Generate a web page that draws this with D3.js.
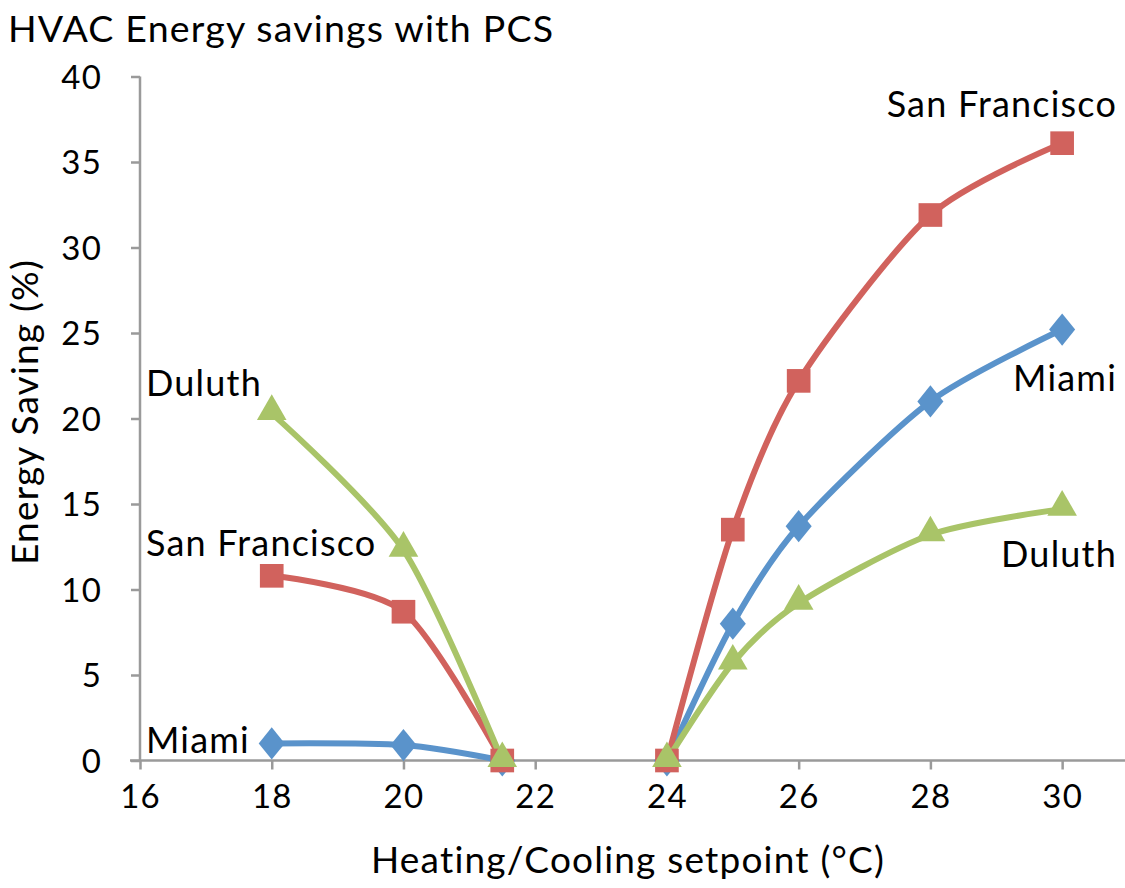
<!DOCTYPE html>
<html>
<head>
<meta charset="utf-8">
<script src="https://cdn.jsdelivr.net/npm/d3@7"></script>
<style>
  body { margin: 0; background: #fff; }
  text { font-family: "Lato", "Open Sans", sans-serif; fill: #000; letter-spacing: 1.2px; }
</style>
</head>
<body>
<div id="chart"></div>
<script>
// setpoints (°C); null marks the gap between heating and cooling branches
const setpoints = [18, 20, 21.5, null, 24, 25, 26, 28, 30];
const miami = [1.0, 0.9, 0, null, 0, 8.0, 13.7, 21.0, 25.2];
const sanFrancisco = [10.8, 8.7, 0, null, 0, 13.5, 22.2, 31.9, 36.1];
const duluth = [20.3, 12.3, 0, null, 0, 5.7, 9.2, 13.2, 14.7];
const xTicks = [16, 18, 20, 22, 24, 26, 28, 30];
const yTicks = [0, 5, 10, 15, 20, 25, 30, 35, 40];

const series = [
  { name: "Miami", values: miami, color: "#5A93CB", symbol: d3.symbolDiamond },
  { name: "San Francisco", values: sanFrancisco, color: "#D1625D", symbol: d3.symbolSquare },
  { name: "Duluth", values: duluth, color: "#A9C468", symbol: d3.symbolTriangle }
];

const W = 1125, H = 888;
const svg = d3.select("#chart").append("svg").attr("width", W).attr("height", H);

const x = d3.scaleLinear().domain([16, 31]).range([140, 1128]);
const y = d3.scaleLinear().domain([0, 40]).range([760.5, 76.5]);
const axisColor = "#9a9a9a";

// title
svg.append("text").attr("x", 8).attr("y", 42).attr("font-size", 37.5).attr("letter-spacing", 1.5)
  .text("HVAC Energy savings with PCS");

// y axis
const yAxis = svg.append("g").attr("transform", "translate(140,0)")
  .call(d3.axisLeft(y).tickValues(yTicks).tickSize(9).tickPadding(29));
yAxis.select(".domain").attr("stroke", axisColor).attr("stroke-width", 2.5).attr("d", "M0," + y(40) + "V" + y(0));
yAxis.selectAll(".tick line").attr("stroke", axisColor).attr("stroke-width", 2.5);
yAxis.selectAll(".tick text").attr("font-size", 33).attr("font-family", "Lato").attr("fill", "#000").attr("dy", "0.36em");

// x axis
const xAxis = svg.append("g").attr("transform", "translate(0," + y(0) + ")")
  .call(d3.axisBottom(x).tickValues(xTicks).tickSize(9).tickPadding(15));
xAxis.select(".domain").attr("stroke", axisColor).attr("stroke-width", 2.5).attr("d", "M130,0H1125");
xAxis.selectAll(".tick line").attr("stroke", axisColor).attr("stroke-width", 2.5);
xAxis.selectAll(".tick text").attr("font-size", 33).attr("font-family", "Lato").attr("fill", "#000");

// axis titles
svg.append("text").attr("x", 628).attr("y", 873).attr("text-anchor", "middle").attr("font-size", 37)
  .text("Heating/Cooling setpoint (°C)");
svg.append("text").attr("transform", "translate(38,412) rotate(-90)").attr("text-anchor", "middle").attr("font-size", 37)
  .text("Energy Saving (%)");

const line = d3.line()
  .defined(d => d[0] != null && d[1] != null)
  .x(d => x(d[0])).y(d => y(d[1]))
  .curve(d3.curveCardinal.tension(0.2));

series.forEach(s => {
  const pts = setpoints.map((sp, i) => [sp, s.values[i]]);
  svg.append("path").datum(pts)
    .attr("fill", "none").attr("stroke", s.color).attr("stroke-width", 6)
    .attr("stroke-linejoin", "round").attr("d", line);
});

series.forEach(s => {
  const pts = setpoints.map((sp, i) => [sp, s.values[i]]).filter(d => d[0] != null);
  const size = s.symbol === d3.symbolSquare ? 560 : (s.symbol === d3.symbolDiamond ? 300 : 380);
  svg.selectAll(null).data(pts).enter().append("path")
    .attr("transform", d => {
      let dy = s.symbol === d3.symbolTriangle ? -2 : 0;
      return "translate(" + x(d[0]) + "," + (y(d[1]) + dy) + ")" + (s.symbol === d3.symbolDiamond ? " scale(1.4,1)" : "");
    })
    .attr("d", d3.symbol().type(s.symbol).size(size))
    .attr("fill", s.color);
});

// series labels
const labels = [
  { text: "Duluth", x: 146, y: 396, anchor: "start" },
  { text: "San Francisco", x: 146, y: 556, anchor: "start" },
  { text: "Miami", x: 146, y: 753, anchor: "start" },
  { text: "San Francisco", x: 1117, y: 117, anchor: "end" },
  { text: "Miami", x: 1117, y: 391, anchor: "end" },
  { text: "Duluth", x: 1117, y: 567, anchor: "end" }
];
svg.selectAll(null).data(labels).enter().append("text")
  .attr("x", d => d.x).attr("y", d => d.y).attr("text-anchor", d => d.anchor)
  .attr("font-size", 36).text(d => d.text);
</script>
</body>
</html>
